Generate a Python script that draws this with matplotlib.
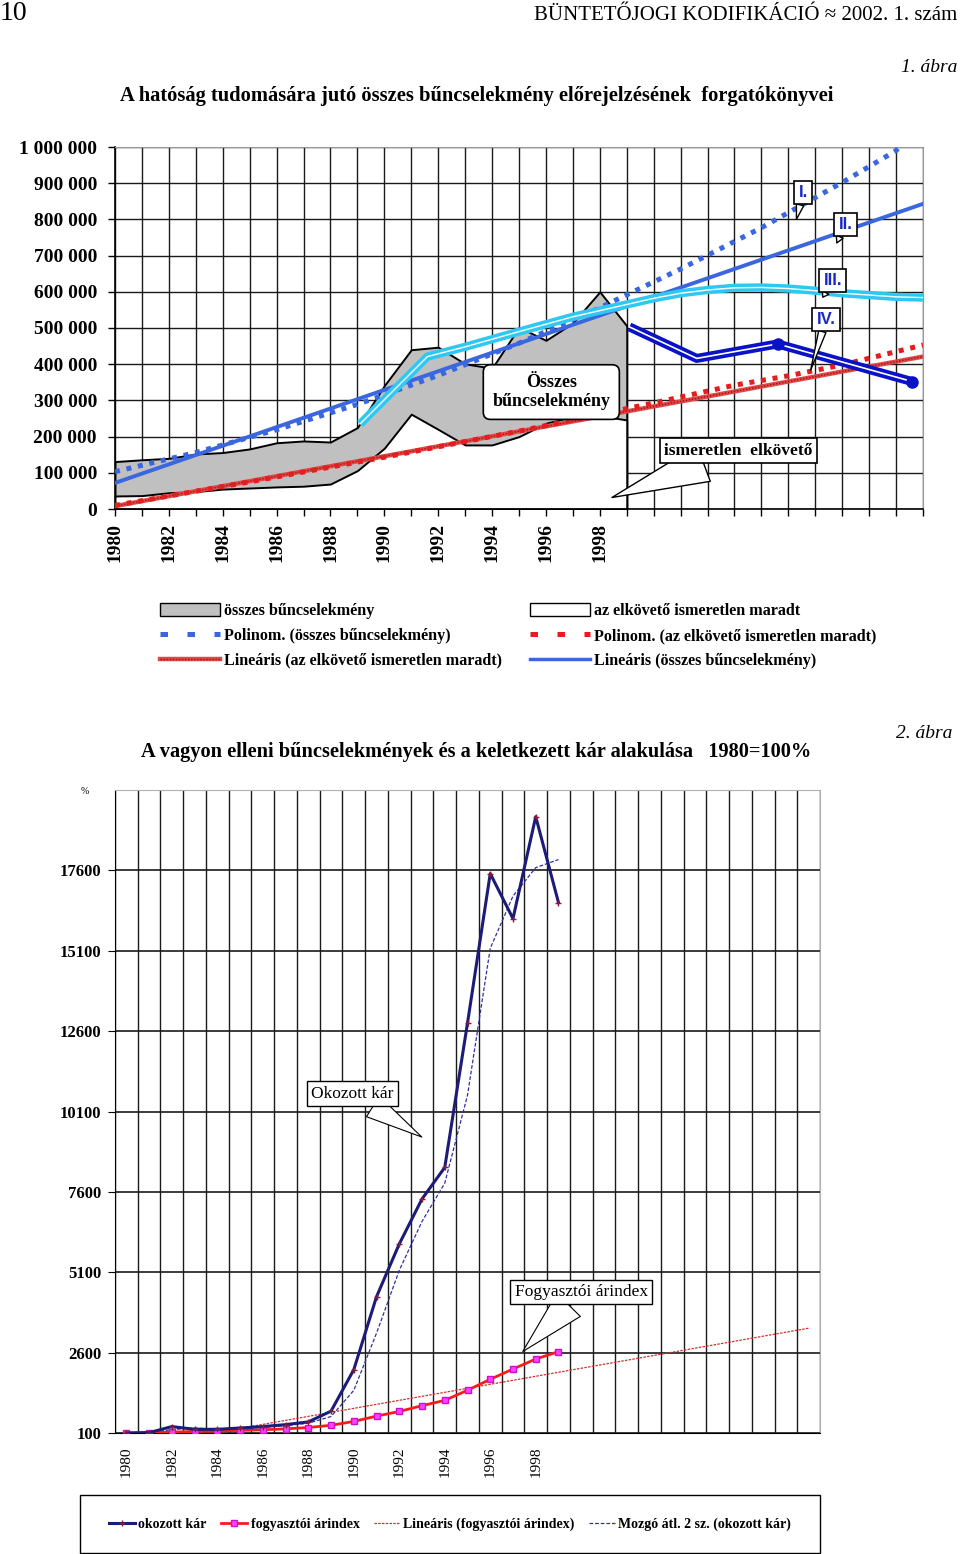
import numpy as np
import pandas as pd
import matplotlib
matplotlib.use('Agg')
import matplotlib.pyplot as plt
from matplotlib.lines import Line2D
from matplotlib.patches import Patch, Rectangle

plt.rcParams['font.family'] = ['Liberation Serif', 'DejaVu Serif']

# ---- 1. ábra: összes bűncselekmény / ismeretlen elkövető
years = list(range(1980, 2000))
total_crime = [131000, 136000, 140000, 152000, 156000, 166000, 183000, 188000, 185000, 225000,
               341000, 440000, 447000, 401000, 389000, 502000, 466000, 514000, 600000, 506000]
unknown_perp = [36000, 37000, 45000, 48000, 55000, 58000, 61000, 63000, 69000, 106000,
                168000, 262000, 220000, 177000, 177000, 200000, 237000, 255000, 258000, 246000]

poly_total_x = [1980, 1983, 1986, 1989, 1992, 1995, 1998, 2001, 2004, 2007, 2009, 2010]
poly_total_y = [103000, 156000, 219000, 289000, 369000, 458000, 556000, 663000, 777000, 902000, 990000, 1078000]
lin_total_x = [1980, 2010]
lin_total_y = [72000, 843000]

poly_unknown_x = [1980, 1985, 1990, 1995, 2000, 2003, 2005, 2007, 2010]
poly_unknown_y = [10000, 75000, 143000, 215000, 293000, 342000, 368000, 398000, 453000]
lin_unknown_x = [1980, 2010]
lin_unknown_y = [8000, 421000]

# forgatókönyvek (III., IV.)
scen3_x = [1989.1, 1991.6, 1993, 1995, 1997, 1998, 1999, 2000, 2001, 2002, 2003, 2004, 2005, 2006, 2007, 2008, 2009, 2010]
scen3_y = [235000, 421000, 448000, 490000, 531000, 548000, 565000, 582000, 596000, 605000, 611000, 612000,
           609000, 603000, 596000, 591000, 586000, 584000]
scen4_x = [1999.1, 2001.6, 2004.6, 2009.6]
scen4_y = [503000, 416000, 456000, 352000]

top_yticks = list(range(0, 1000001, 100000))

# ---- 2. ábra: vagyon elleni bűncselekmények, 1980=100%
kar = [100, 110, 300, 215, 215, 255, 300, 360, 445, 780,
       2070, 4340, 5980, 7380, 8360, 12850, 17500, 16100, 19270, 16600]
cpi = [100, 115, 125, 150, 160, 180, 200, 230, 270, 340,
       460, 625, 770, 950, 1115, 1430, 1770, 2090, 2400, 2630]
cpi_lin_x = [1980, 2010]
cpi_lin_y = [-380, 3360]
bottom_yticks = [100, 2600, 5100, 7600, 10100, 12600, 15100, 17600]

W, H = 960, 1554
fig = plt.figure(figsize=(W / 100, H / 100), dpi=100)


def fx(px):
    return px / W


def fy(py):
    return 1 - py / H


# header
fig.text(fx(0), fy(14), '10', fontsize=20, ha='left', va='center')
fig.text(fx(957), fy(15), 'BÜNTETŐJOGI KODIFIKÁCIÓ ≈ 2002. 1. szám', fontsize=15, ha='right', va='center')
fig.text(fx(957), fy(67), '1. ábra', fontsize=14, style='italic', ha='right', va='center')
fig.text(fx(477), fy(96), 'A hatóság tudomására jutó összes bűncselekmény előrejelzésének  forgatókönyvei',
         fontsize=14.8, fontweight='bold', ha='center', va='center')

# ================= top chart
ax1 = fig.add_axes([fx(115), fy(509), fx(923) - fx(115), fy(147) - fy(509)])
ax1.set_xlim(1980, 2010)
ax1.set_ylim(0, 1000000)
ax1.set_axisbelow(True)
ax1.grid(True, color='#1a1a1a', lw=1.0)

ax1.fill_between(years, 0, total_crime, facecolor='#c0c0c0', edgecolor='black', lw=1.4, zorder=2)
ax1.fill_between(years, 0, unknown_perp, facecolor='white', edgecolor='black', lw=1.4, zorder=2.1)

ax1.plot(lin_unknown_x, lin_unknown_y, color='#e04848', lw=3.2, zorder=3)
ax1.plot(lin_unknown_x, lin_unknown_y, color='#a01010', lw=1.0, ls=(0, (1, 1.2)), zorder=3.1)
ax1.plot(poly_unknown_x, poly_unknown_y, color='#e41e1e', lw=3.6, ls=(0, (1.0, 1.35)), zorder=3.2)
ax1.plot(lin_total_x, lin_total_y, color='#3a66e0', lw=2.8, zorder=3.3)
ax1.plot(poly_total_x, poly_total_y, color='#3a66e0', lw=3.6, ls=(0, (1.0, 1.35)), zorder=3.4)

ax1.plot(scen3_x, scen3_y, color='#2ec8f2', lw=6, zorder=4, solid_capstyle='butt')
ax1.plot(scen3_x, scen3_y, color='white', lw=1.0, zorder=4.1)
ax1.plot(scen4_x, scen4_y, color='#0a12c8', lw=6.5, zorder=4.2, solid_capstyle='butt')
ax1.plot(scen4_x, scen4_y, color='white', lw=1.2, zorder=4.3)
ax1.plot(scen4_x[2:], scen4_y[2:], 'o', color='#0a12c8', ms=8, zorder=4.4)

ax1.set_xticks(range(1980, 2011))
ax1.set_xticklabels([str(y) if (y % 2 == 0 and y < 2000) else '' for y in range(1980, 2011)],
                    rotation=90, fontsize=14, fontweight='bold')
ax1.set_yticks(top_yticks)
ax1.set_yticklabels([f'{v:,}'.replace(',', ' ') for v in top_yticks], fontsize=14, fontweight='bold')
ax1.tick_params(axis='x', length=5, pad=5, width=1)
ax1.tick_params(axis='y', length=5, pad=8, width=1)
for s in ['top', 'right']:
    ax1.spines[s].set_color('#9a9a9a')
for s in ['left', 'bottom']:
    ax1.spines[s].set_linewidth(1.2)

ax1.text(1996.2, 323000, 'Összes\nbűncselekmény', fontsize=13, fontweight='bold', ha='center', va='center',
         linespacing=1.2, zorder=6,
         bbox=dict(boxstyle='round,pad=0.5,rounding_size=0.4', fc='white', ec='black', lw=1.2))
ax1.annotate('ismeretlen  elkövető', xy=(1998.45, 31800), xytext=(2003.15, 161600), fontsize=12.5,
             fontweight='bold', ha='center', va='center', zorder=6,
             bbox=dict(boxstyle='square,pad=0.25', fc='white', ec='black', lw=1.2),
             arrowprops=dict(arrowstyle='wedge,tail_width=2.2', fc='white', ec='black', lw=1.0,
                             shrinkA=0, shrinkB=0))

roman = [('I.', (2005.55, 874000), (2005.3, 800000)),
         ('II.', (2007.12, 786000), (2006.8, 735000)),
         ('III.', (2006.65, 632000), (2006.28, 585000)),
         ('IV.', (2006.4, 524000), (2005.83, 384000))]
for lab, txt_pos, tip in roman:
    ax1.annotate(lab, xy=tip, xytext=txt_pos, fontsize=12, fontweight='bold', family='Liberation Sans',
                 color='#1a2ac0', ha='center', va='center', zorder=7,
                 bbox=dict(boxstyle='square,pad=0.25', fc='white', ec='black', lw=1.2),
                 arrowprops=dict(arrowstyle='wedge,tail_width=0.45', fc='white', ec='black', lw=1.0,
                                 shrinkA=0, shrinkB=0))

# top legends
red_hatch = (Line2D([], [], color='#e04848', lw=3.2), Line2D([], [], color='#a01010', lw=1.0, ls=(0, (1, 1.2))))
h_left = [Patch(facecolor='#c0c0c0', edgecolor='black'),
          Line2D([], [], color='#3a66e0', lw=3.6, ls=(0, (1.5, 3.9))),
          red_hatch]
l_left = ['összes bűncselekmény', 'Polinom. (összes bűncselekmény)', 'Lineáris (az elkövető ismeretlen maradt)']
h_right = [Patch(facecolor='white', edgecolor='black'),
           Line2D([], [], color='#e41e1e', lw=3.6, ls=(0, (1.5, 3.9))),
           Line2D([], [], color='#3a66e0', lw=2.5)]
l_right = ['az elkövető ismeretlen maradt', 'Polinom. (az elkövető ismeretlen maradt)',
           'Lineáris (összes bűncselekmény)']
for hs, ls_, x0 in [(h_left, l_left, 152), (h_right, l_right, 522)]:
    fig.legend(hs, ls_, loc='upper left', bbox_to_anchor=(fx(x0), fy(595)), frameon=False,
               prop={'size': 11.6, 'weight': 'bold'}, handlelength=3.75, handleheight=0.8,
               handletextpad=0.2, labelspacing=0.55, borderpad=0)

# ================= bottom chart
fig.text(fx(952), fy(734), '2. ábra', fontsize=14, style='italic', ha='right', va='center')
fig.text(fx(476), fy(752), 'A vagyon elleni bűncselekmények és a keletkezett kár alakulása   1980=100%',
         fontsize=14.7, fontweight='bold', ha='center', va='center')
fig.text(fx(85), fy(792), '%', fontsize=7, ha='center', va='center')

ax2 = fig.add_axes([fx(115), fy(1433), fx(820) - fx(115), fy(790) - fy(1433)])
ax2.set_xlim(1979.5, 2010.5)
ax2.set_ylim(100, 20100)
ax2.set_axisbelow(True)
ax2.set_xticks(range(1980, 1999, 2))
ax2.set_xticklabels([str(y) for y in range(1980, 1999, 2)], rotation=90, fontsize=11)
ax2.set_xticks(np.arange(1979.5, 2011, 1), minor=True)
ax2.set_yticks(bottom_yticks)
ax2.set_yticklabels([str(v) for v in bottom_yticks], fontsize=12, fontweight='bold')
ax2.tick_params(axis='x', which='major', length=0, pad=10)
ax2.tick_params(axis='x', which='minor', length=0)
ax2.tick_params(axis='y', length=5, pad=5)
ax2.grid(True, which='minor', axis='x', color='#1a1a1a', lw=1.0)
ax2.grid(True, which='major', axis='y', color='#1a1a1a', lw=1.2)
for s in ['top', 'right']:
    ax2.spines[s].set_color('#b0b0b0')

kar_ma = pd.Series(kar, index=years).rolling(2).mean()

ax2.plot(cpi_lin_x, cpi_lin_y, color='#d03030', lw=0.9, ls=(0, (2, 1)), zorder=3)
ax2.plot(kar_ma.index, kar_ma.values, color='#3030a0', lw=0.9, ls=(0, (3, 1.5)), zorder=3.1)
ax2.plot(years, cpi, color='#ff1a1a', lw=2.0, marker='s', ms=4, mfc='#ff40ff', mec='#cc10cc', zorder=3.2)
ax2.plot(years, kar, color='#1c1c78', lw=2.2, marker='+', ms=5, mec='#8b1a3a', zorder=3.3)

ax2.annotate('Okozott kár', xy=(1992.99, 9306), xytext=(1989.94, 10658), fontsize=12.5,
             ha='center', va='center', zorder=6,
             bbox=dict(boxstyle='square,pad=0.25', fc='white', ec='black', lw=1.0),
             arrowprops=dict(arrowstyle='wedge,tail_width=1.4', fc='white', ec='black', lw=0.8,
                             shrinkA=0, shrinkB=0))
ax2.annotate('Fogyasztói árindex', xy=(1997.43, 2635), xytext=(2000.0, 4485), fontsize=12.5,
             ha='center', va='center', zorder=6,
             bbox=dict(boxstyle='square,pad=0.25', fc='white', ec='black', lw=1.0),
             arrowprops=dict(arrowstyle='wedge,tail_width=1.9', fc='white', ec='black', lw=0.8,
                             shrinkA=0, shrinkB=0))

# bottom legend
fig.add_artist(Rectangle((fx(80), fy(1553)), fx(820) - fx(80), fy(1495) - fy(1553),
                         transform=fig.transFigure, fc='white', ec='black', lw=1.0))
h_bot = [Line2D([], [], color='#1c1c78', lw=2.2, marker='+', ms=5, mec='#8b1a3a'),
         Line2D([], [], color='#ff1a1a', lw=2.0, marker='s', ms=4, mfc='#ff40ff', mec='#cc10cc'),
         Line2D([], [], color='#d03030', lw=0.9, ls=(0, (2, 1))),
         Line2D([], [], color='#3030a0', lw=0.9, ls=(0, (3, 1.5)))]
l_bot = ['okozott kár', 'fogyasztói árindex', 'Lineáris (fogyasztói árindex)', 'Mozgó átl. 2 sz. (okozott kár)']
fig.legend(h_bot, l_bot, loc='center', bbox_to_anchor=(fx(450), fy(1524)), ncol=4, frameon=False,
           prop={'size': 10, 'weight': 'bold'}, handlelength=1.9, handletextpad=0.25, columnspacing=1.0)

fig.savefig('out.png', dpi=100)
